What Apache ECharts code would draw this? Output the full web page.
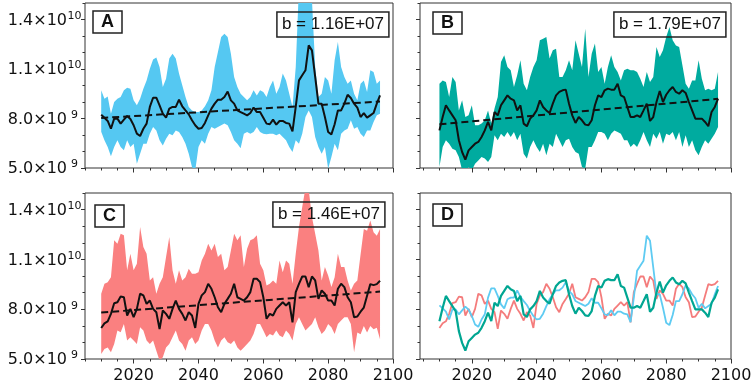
<!DOCTYPE html>
<html>
<head>
<meta charset="utf-8">
<script src="https://cdn.jsdelivr.net/npm/echarts@6.0.0/dist/echarts.min.js"></script>
<style>
  html, body { margin: 0; padding: 0; background: #fff; }
  #chart { width: 754px; height: 384px; }
</style>
</head>
<body>
<div id="chart"></div>
<script>
// years of the series (2010 - 2096)
var years = [];
for (var yr = 2010; yr <= 2096; yr++) years.push(yr);

// values in units of 1e9
var meanA = [8.23, 8.05, 7.85, 7.38, 7.99, 7.99, 7.69, 7.93, 8.15, 7.97,
  7.59, 7.08, 6.94, 7.38, 7.69, 8.70, 9.26, 9.26, 8.80, 8.29,
  8.05, 8.60, 8.70, 8.70, 9.14, 8.74, 8.49, 8.25, 7.89, 7.59,
  7.38, 7.42, 7.73, 8.19, 8.60, 8.90, 9.14, 9.14, 9.30, 9.63,
  9.10, 8.90, 8.49, 8.39, 8.29, 8.19, 8.33, 8.66, 8.39, 8.39,
  8.05, 7.69, 7.65, 7.93, 7.63, 7.85, 7.85, 7.73, 7.69, 7.22,
  8.70, 10.31, 10.62, 10.92, 12.43, 12.13, 10.52, 8.90, 8.90, 8.09,
  7.18, 7.04, 7.65, 8.49, 8.49, 8.90, 9.44, 9.24, 8.90, 8.66,
  8.09, 8.33, 8.05, 8.19, 8.33, 8.90, 9.40];
var upperA = [9.71, 9.20, 9.34, 8.29, 9.00, 9.20, 9.30, 9.71, 9.87, 9.81,
  9.10, 8.80, 9.20, 9.81, 10.31, 11.02, 11.57, 11.69, 11.12, 9.91,
  10.41, 11.63, 11.93, 11.63, 10.72, 10.01, 9.30, 8.70, 8.49, 8.39,
  8.39, 8.49, 8.74, 9.10, 9.71, 11.12, 12.03, 12.94, 13.14, 12.94,
  11.93, 10.52, 9.91, 9.50, 9.30, 9.10, 9.30, 9.71, 9.40, 9.71,
  9.60, 9.30, 9.91, 10.31, 9.50, 9.91, 10.72, 10.31, 9.50, 8.70,
  11.12, 16.0, 17.0, 16.5, 16.0, 15.2, 11.12, 9.30, 9.50, 10.52,
  10.31, 9.50, 11.53, 12.64, 11.12, 10.52, 10.11, 10.31, 9.50, 9.10,
  10.11, 10.31, 9.60, 10.92, 10.82, 10.11, 10.31];
var lowerA = [7.20, 6.68, 6.27, 5.71, 6.27, 6.68, 6.27, 6.07, 6.68, 6.27,
  6.47, 5.26, 5.87, 6.47, 6.47, 7.08, 7.48, 7.28, 6.68, 6.37,
  6.78, 7.08, 6.98, 7.28, 7.18, 6.88, 6.47, 5.87, 5.06, 4.85,
  6.27, 6.68, 6.47, 7.08, 7.48, 7.38, 7.48, 7.59, 7.69, 7.59,
  7.18, 6.68, 6.47, 6.20, 7.08, 7.18, 7.08, 7.18, 7.48, 7.18,
  7.08, 7.04, 7.08, 7.08, 6.98, 7.08, 6.88, 6.68, 6.27, 5.97,
  6.68, 6.47, 7.08, 8.09, 8.49, 8.09, 6.88, 6.27, 5.87, 6.27,
  4.96, 5.67, 6.47, 6.07, 7.08, 7.28, 7.38, 7.89, 7.38, 7.48,
  7.08, 6.88, 7.28, 7.28, 7.79, 8.19, 8.29];

var meanB = [7.28, 8.09, 8.80, 8.49, 8.19, 7.89, 6.68, 5.97, 5.51, 6.07,
  6.27, 6.47, 6.58, 6.88, 7.28, 7.79, 7.28, 8.39, 8.19, 8.80,
  9.10, 9.40, 9.20, 9.10, 8.49, 8.80, 7.69, 7.53, 7.99, 8.19,
  8.49, 9.10, 8.70, 8.49, 8.33, 8.90, 9.40, 9.61, 9.71, 9.75,
  8.90, 8.19, 7.73, 8.09, 7.89, 7.63, 7.59, 7.89, 8.80, 9.40,
  9.30, 9.71, 9.81, 9.75, 9.75, 10.11, 9.40, 9.30, 8.70, 8.09,
  8.09, 8.19, 8.09, 8.49, 8.90, 7.85, 8.09, 9.00, 9.67, 9.00,
  9.44, 9.71, 9.91, 9.61, 9.50, 9.71, 9.55, 9.00, 8.49, 7.99,
  7.99, 7.99, 7.79, 7.53, 8.39, 8.70, 9.20];
var upperB = [10.11, 10.31, 10.21, 9.30, 10.52, 10.21, 8.49, 9.10, 8.09, 8.19,
  8.80, 7.59, 7.59, 7.69, 7.89, 8.49, 7.69, 8.60, 9.30, 11.42,
  11.83, 11.12, 10.92, 9.91, 10.62, 11.53, 10.11, 9.71, 10.52, 11.12,
  11.53, 12.74, 12.84, 12.94, 11.63, 12.13, 12.23, 10.52, 10.52, 10.92,
  11.53, 10.92, 12.74, 11.93, 11.12, 13.44, 10.52, 11.93, 12.54, 10.82,
  11.12, 10.11, 11.12, 11.83, 11.12, 10.82, 10.31, 10.92, 11.02, 10.92,
  10.92, 10.82, 10.41, 9.91, 10.82, 10.21, 10.52, 12.33, 11.73, 12.13,
  12.94, 13.55, 12.74, 12.43, 12.33, 11.22, 10.11, 9.81, 10.31, 10.31,
  11.53, 10.41, 9.71, 9.81, 9.71, 9.81, 10.82];
var lowerB = [5.06, 6.27, 6.68, 6.47, 6.17, 6.07, 5.67, 4.86, 4.66, 5.06,
  4.86, 5.26, 5.46, 5.67, 5.57, 5.36, 5.67, 6.98, 6.68, 7.08,
  6.88, 7.18, 6.88, 7.18, 6.68, 7.08, 5.87, 5.57, 6.27, 6.68,
  6.27, 5.97, 6.47, 5.77, 6.47, 6.27, 7.08, 6.68, 6.27, 6.68,
  6.78, 6.27, 5.97, 5.87, 5.06, 4.96, 6.27, 6.27, 6.68, 7.18,
  7.18, 7.08, 6.68, 7.08, 7.28, 7.18, 7.08, 6.68, 6.68, 6.27,
  6.47, 6.27, 6.68, 7.18, 6.68, 6.27, 7.08, 6.78, 7.18, 6.47,
  7.08, 6.98, 7.18, 6.68, 7.18, 6.27, 6.98, 6.27, 6.68, 6.07,
  5.77, 6.27, 6.68, 6.47, 6.78, 7.08, 7.48];

var meanC = [6.87, 7.15, 7.27, 7.72, 8.36, 8.42, 8.76, 8.72, 7.62, 8.02,
  7.52, 8.02, 8.93, 8.83, 8.32, 8.52, 8.02, 7.82, 6.81, 7.92,
  7.72, 7.42, 8.02, 8.52, 8.02, 7.72, 7.32, 7.82, 7.62, 6.87,
  8.32, 8.83, 9.03, 9.53, 9.23, 8.72, 8.12, 7.82, 8.32, 8.62,
  8.93, 9.53, 8.72, 8.62, 8.52, 8.72, 9.03, 9.83, 9.83, 9.63,
  8.72, 7.42, 7.72, 7.62, 8.02, 8.22, 8.42, 8.22, 8.42, 7.21,
  9.03, 9.53, 9.97, 9.97, 9.33, 9.97, 9.73, 8.62, 9.13, 8.93,
  8.52, 8.52, 8.22, 9.23, 9.53, 9.33, 8.72, 8.42, 7.52, 7.56,
  7.85, 8.10, 8.81, 9.51, 9.45, 9.51, 9.71];
var upperC = [8.93, 9.53, 9.63, 9.93, 12.15, 11.95, 12.55, 12.45, 10.34, 11.34,
  10.34, 10.74, 12.95, 11.74, 11.34, 9.73, 9.93, 8.93, 9.53, 9.93,
  11.14, 12.35, 10.34, 9.53, 10.34, 9.73, 9.93, 10.44, 10.13, 10.13,
  10.23, 10.94, 11.34, 11.95, 11.54, 11.95, 11.14, 11.34, 10.34, 10.54,
  11.54, 12.55, 12.15, 12.45, 10.54, 11.64, 12.15, 12.25, 12.45, 10.74,
  10.34, 9.43, 9.53, 9.73, 9.53, 10.94, 10.23, 10.94, 10.74, 9.53,
  11.34, 12.95, 14.16, 15.3, 15.2, 13.56, 12.55, 11.54, 9.73, 10.54,
  10.03, 9.33, 9.93, 11.34, 10.54, 10.54, 9.73, 9.13, 9.53, 9.73,
  11.30, 12.83, 12.73, 13.34, 12.63, 12.43, 12.83];
var lowerC = [5.30, 5.60, 5.70, 5.40, 5.91, 6.71, 6.61, 7.11, 6.11, 6.31,
  6.11, 5.91, 6.91, 6.71, 6.11, 5.91, 6.11, 5.50, 4.90, 5.10,
  5.70, 5.91, 6.31, 6.71, 6.11, 5.91, 5.50, 6.11, 6.31, 5.91,
  6.11, 6.71, 7.11, 7.11, 6.71, 6.11, 5.70, 6.11, 6.31, 6.01,
  5.91, 6.11, 5.70, 5.50, 5.70, 5.91, 6.11, 6.51, 7.11, 7.11,
  6.71, 6.31, 6.51, 6.41, 6.71, 6.41, 6.31, 6.71, 6.51, 6.11,
  7.11, 7.52, 7.11, 6.71, 6.91, 7.11, 7.52, 6.91, 6.51, 6.71,
  7.11, 6.91, 6.51, 7.11, 7.32, 7.52, 7.52, 7.11, 5.40, 6.59,
  6.49, 6.99, 6.59, 6.99, 6.79, 6.89, 6.19];

// dashed trend lines: value at first and last year (1e9)
var trendYears = [2010, 2096];
var trendA = [8.03, 9.03];
var trendB = [7.65, 9.19];
var trendC = [7.80, 9.06];

var slopeText = ['b = 1.16E+07', 'b = 1.79E+07', 'b = 1.46E+07'];
var panelNames = ['A', 'B', 'C', 'D'];

var xMinorTicks = [2005, 2010, 2015, 2020, 2025, 2030, 2035, 2040, 2045, 2050,
  2055, 2060, 2065, 2070, 2075, 2080, 2085, 2090, 2095, 2100];
var xMajorTicks = [2020, 2040, 2060, 2080, 2100];
var yMinorTicks = [5e9, 6e9, 7e9, 8e9, 9e9, 1e10, 1.1e10, 1.2e10, 1.3e10, 1.4e10, 1.5e10];
var yMajorTicks = [5e9, 8e9, 1.1e10, 1.4e10];

var FONT = '"Liberation Sans", Arial, Helvetica, sans-serif';
var AXFONT = '"DejaVu Sans", "Liberation Sans", sans-serif';
var colA = '#55c8f2', colB = '#00ab9f', colC = '#fa8080';

function pairs(vals) {
  return years.map(function (y, i) { return [y, vals[i] * 1e9]; });
}
function trend(t) {
  return [[trendYears[0], t[0] * 1e9], [trendYears[1], t[1] * 1e9]];
}

function yLabel(v) {
  var base, exp;
  if (v >= 1e10) { base = (v / 1e10).toFixed(1); exp = '10'; }
  else { base = (v / 1e9).toFixed(1); exp = '9'; }
  return '{b|' + base + '×10}{s|' + exp + '}';
}

var grids = [
  { left: 85, top: 3, width: 308, height: 165 },
  { left: 420, top: 3, width: 311, height: 165 },
  { left: 85, top: 193, width: 308, height: 166 },
  { left: 420, top: 193, width: 311, height: 166 }
];
grids.forEach(function (g) {
  g.show = true; g.borderColor = '#333'; g.borderWidth = 1;
  g.backgroundColor = 'transparent';
  g.containLabel = false;
  g.outerBoundsMode = 'none';
});

var tickStyle = { color: '#333', width: 1 };
var xAxis = [], yAxis = [];
for (var g = 0; g < 4; g++) {
  var xmin = (g % 2 === 0) ? 2005 : 2004;
  xAxis.push({
    type: 'value', gridIndex: g, min: xmin, max: 2100, position: 'bottom',
    axisLine: { show: false, onZero: false }, splitLine: { show: false },
    axisLabel: { show: false },
    axisTick: { show: true, length: 2.5, customValues: xMinorTicks, lineStyle: tickStyle }
  });
  xAxis.push({
    type: 'value', gridIndex: g, min: xmin, max: 2100, position: 'bottom', offset: 0,
    axisLine: { show: false, onZero: false }, splitLine: { show: false },
    axisTick: { show: true, length: 4.5, customValues: xMajorTicks, lineStyle: tickStyle },
    axisLabel: {
      show: g >= 2, customValues: xMajorTicks, margin: 10, lineHeight: 14,
      fontSize: 16, fontFamily: AXFONT, color: '#111',
      formatter: function (v) { return String(v); }
    }
  });
  yAxis.push({
    type: 'value', gridIndex: g, min: 5e9, max: 1.5e10, position: 'left',
    axisLine: { show: false, onZero: false }, splitLine: { show: false },
    axisLabel: { show: false },
    axisTick: { show: true, length: 2.5, customValues: yMinorTicks, lineStyle: tickStyle }
  });
  yAxis.push({
    type: 'value', gridIndex: g, min: 5e9, max: 1.5e10, position: 'left', offset: 0,
    axisLine: { show: false, onZero: false }, splitLine: { show: false },
    axisTick: { show: true, length: 4, customValues: yMajorTicks, lineStyle: tickStyle },
    axisLabel: {
      show: g % 2 === 0, customValues: yMajorTicks, margin: 3,
      formatter: yLabel,
      rich: {
        b: { fontSize: 16, fontFamily: AXFONT, color: '#111', lineHeight: 18, verticalAlign: 'bottom' },
        s: { fontSize: 11, fontFamily: AXFONT, color: '#111', lineHeight: 12, verticalAlign: 'top', width: 15, align: 'left' }
      }
    }
  });
}

// shaded spread drawn as one polygon through the axis scales
function bandRenderer(up, lo, color) {
  return function (params, api) {
    if (params.dataIndex !== 0) return null;
    var pts = [], i;
    for (i = 0; i < years.length; i++) pts.push(api.coord([years[i], up[i] * 1e9]));
    for (i = years.length - 1; i >= 0; i--) pts.push(api.coord([years[i], lo[i] * 1e9]));
    var cs = params.coordSys;
    return {
      type: 'polygon', silent: true,
      shape: { points: pts },
      style: { fill: color },
      clipPath: { type: 'rect', shape: { x: cs.x, y: cs.y, width: cs.width, height: cs.height } }
    };
  };
}

var series = [];
function bandPanel(g, mean, up, lo, tr, color) {
  var xi = g * 2, yi = g * 2;
  series.push({
    type: 'custom', xAxisIndex: xi, yAxisIndex: yi, silent: true, clip: true,
    renderItem: bandRenderer(up, lo, color),
    encode: { x: 0, y: [1, 2] },
    data: years.map(function (y, i) { return [y, lo[i] * 1e9, up[i] * 1e9]; })
  });
  series.push({
    type: 'line', xAxisIndex: xi, yAxisIndex: yi, symbol: 'none',
    lineStyle: { color: '#111', width: 2 }, data: pairs(mean)
  });
  series.push({
    type: 'line', xAxisIndex: xi, yAxisIndex: yi, symbol: 'none',
    lineStyle: { color: '#111', width: 2, type: [7, 4] }, data: trend(tr)
  });
}
bandPanel(0, meanA, upperA, lowerA, trendA, colA);
bandPanel(1, meanB, upperB, lowerB, trendB, colB);
bandPanel(2, meanC, upperC, lowerC, trendC, colC);

// panel D: the three means together
[[meanC, '#f47c7c', 1.8], [meanA, '#5ecbf2', 1.8], [meanB, '#00a692', 2.2]].forEach(function (d) {
  series.push({
    type: 'line', xAxisIndex: 6, yAxisIndex: 6, symbol: 'none',
    lineStyle: { color: d[1], width: d[2] }, data: pairs(d[0])
  });
});

var letterPos = [[93, 11], [433, 12], [95, 205], [433, 204]];
var slopePos = [[365, 12], [28, 12], [369, 202]];
var title = [];
panelNames.forEach(function (n, i) {
  title.push({
    text: n, left: letterPos[i][0], top: letterPos[i][1], padding: [2, 8],
    borderColor: '#222', borderWidth: 1.5,
    textStyle: { fontSize: 18, fontWeight: 'bold', fontFamily: FONT, color: '#111' }
  });
});
slopeText.forEach(function (t, i) {
  title.push({
    text: t, right: slopePos[i][0], top: slopePos[i][1], padding: [4, 5],
    borderColor: '#222', borderWidth: 1.5,
    textStyle: { fontSize: 17, fontWeight: 'normal', fontFamily: FONT, color: '#111' }
  });
});

var myChart = echarts.init(document.getElementById('chart'));
myChart.setOption({
  animation: false,
  backgroundColor: '#fff',
  title: title,
  grid: grids,
  xAxis: xAxis,
  yAxis: yAxis,
  series: series
});
</script>
</body>
</html>
